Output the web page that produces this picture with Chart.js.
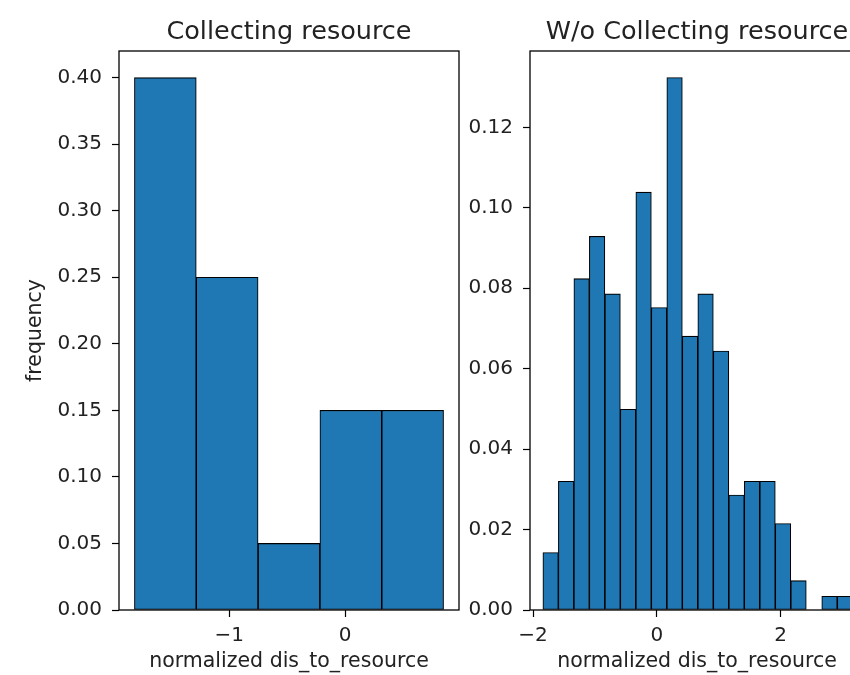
<!DOCTYPE html>
<html>
<head>
<meta charset="utf-8">
<script src="https://cdn.jsdelivr.net/npm/chart.js@4.4.1/dist/chart.umd.min.js"></script>
<style>
  html, body { margin: 0; padding: 0; background: #fff; overflow: hidden; }
  #wrap { position: relative; width: 850px; height: 675px; overflow: hidden; background: #fff; }
  #c1 { position: absolute; left: 0; top: 0; }
  #c2 { position: absolute; left: 462px; top: 0; }
</style>
</head>
<body>
<div id="wrap">
  <canvas id="c1" width="462" height="675"></canvas>
  <canvas id="c2" width="420" height="675"></canvas>
</div>
<script>
// Histogram bin edges and relative frequencies
const collectEdges = [-1.817, -1.284, -0.751, -0.218, 0.315, 0.848];
const collectFreq  = [0.40, 0.25, 0.05, 0.15, 0.15];

const woEdges = [-1.842, -1.591, -1.341, -1.090, -0.840, -0.589, -0.339, -0.088,
                 0.162, 0.413, 0.663, 0.914, 1.164, 1.415, 1.665, 1.916, 2.166,
                 2.417, 2.667, 2.918, 3.168];
const woFreq  = [0.0143, 0.0320, 0.0824, 0.0929, 0.0786, 0.0499, 0.1039, 0.0752,
                 0.1324, 0.0681, 0.0786, 0.0644, 0.0286, 0.0320, 0.0320, 0.0215,
                 0.0073, 0.0, 0.0034, 0.0034];

// Tick positions
const collectXTicks = [-1, 0];
const collectYTicks = [0.00, 0.05, 0.10, 0.15, 0.20, 0.25, 0.30, 0.35, 0.40];
const woXTicks = [-2, 0, 2];
const woYTicks = [0.00, 0.02, 0.04, 0.06, 0.08, 0.10, 0.12];

const FONT = 'DejaVu Sans';
const TEXT = '#222';
const BAR = '#1f77b4';

// Full box around the plotting area
const framePlugin = {
  id: 'frame',
  afterDraw(chart) {
    const { ctx, chartArea: a } = chart;
    ctx.save();
    ctx.strokeStyle = '#000';
    ctx.lineWidth = 1.3;
    ctx.strokeRect(a.left, a.top, a.right - a.left, a.bottom - a.top);
    ctx.restore();
  }
};

function toPoints(edges, freq) {
  return freq.map((f, i) => ({ x: (edges[i] + edges[i + 1]) / 2, y: f }));
}

function fmtX(v) {
  return String(v).replace('-', '\u2212');
}

function histogram(canvas, cfg) {
  return new Chart(canvas, {
    type: 'bar',
    data: {
      datasets: [{
        data: toPoints(cfg.edges, cfg.freq),
        backgroundColor: BAR,
        borderColor: '#000',
        borderWidth: 1.1,
        borderSkipped: false,
        barThickness: 'flex',
        barPercentage: 1,
        categoryPercentage: 1
      }]
    },
    options: {
      responsive: false,
      animation: false,
      devicePixelRatio: 1,
      layout: { padding: { left: 0, right: cfg.padRight, top: 0, bottom: 0 } },
      plugins: {
        legend: { display: false },
        tooltip: { enabled: false },
        title: {
          display: true,
          text: cfg.title,
          fullSize: false,
          color: TEXT,
          font: { family: FONT, size: 25.5, weight: 'normal', lineHeight: 1.2 },
          padding: { top: 17, bottom: 3.4 }
        }
      },
      scales: {
        x: {
          type: 'linear',
          min: cfg.xMin,
          max: cfg.xMax,
          offset: false,
          afterFit(s) { s.height = 65; },
          afterBuildTicks(s) { s.ticks = cfg.xTicks.map(v => ({ value: v })); },
          grid: { display: true, offset: false, drawOnChartArea: false, drawTicks: true,
                  tickLength: 7, tickWidth: 1.2, tickColor: '#000', color: '#000' },
          border: { display: false },
          ticks: {
            autoSkip: false, maxRotation: 0, padding: 7, color: TEXT,
            font: { family: FONT, size: 20 },
            callback: v => fmtX(v)
          },
          title: {
            display: true,
            text: 'normalized dis_to_resource',
            color: TEXT,
            font: { family: FONT, size: 20.5 },
            padding: { top: 0, bottom: 1 }
          }
        },
        y: {
          type: 'linear',
          min: 0,
          max: cfg.yMax,
          afterFit(s) { s.width = cfg.yWidth; },
          afterBuildTicks(s) { s.ticks = cfg.yTicks.map(v => ({ value: v })); },
          grid: { display: true, offset: false, drawOnChartArea: false, drawTicks: true,
                  tickLength: 7, tickWidth: 1.2, tickColor: '#000', color: '#000' },
          border: { display: false },
          ticks: {
            autoSkip: false, padding: 10, color: TEXT,
            font: { family: FONT, size: 20 },
            callback: v => v.toFixed(2)
          },
          title: {
            display: cfg.yTitle,
            text: 'frequency',
            color: TEXT,
            font: { family: FONT, size: 20.5 },
            padding: { top: 23, bottom: 0 }
          }
        }
      }
    },
    plugins: [framePlugin]
  });
}

histogram(document.getElementById('c1'), {
  title: 'Collecting resource',
  edges: collectEdges, freq: collectFreq,
  xMin: -1.950, xMax: 0.981, yMax: 0.42,
  xTicks: collectXTicks, yTicks: collectYTicks,
  yWidth: 119, padRight: 3, yTitle: true
});

histogram(document.getElementById('c2'), {
  title: 'W/o Collecting resource',
  edges: woEdges, freq: woFreq,
  xMin: -2.05, xMax: 3.35, yMax: 0.139,
  xTicks: woXTicks, yTicks: woYTicks,
  yWidth: 68, padRight: 18, yTitle: false
});
</script>
</body>
</html>
